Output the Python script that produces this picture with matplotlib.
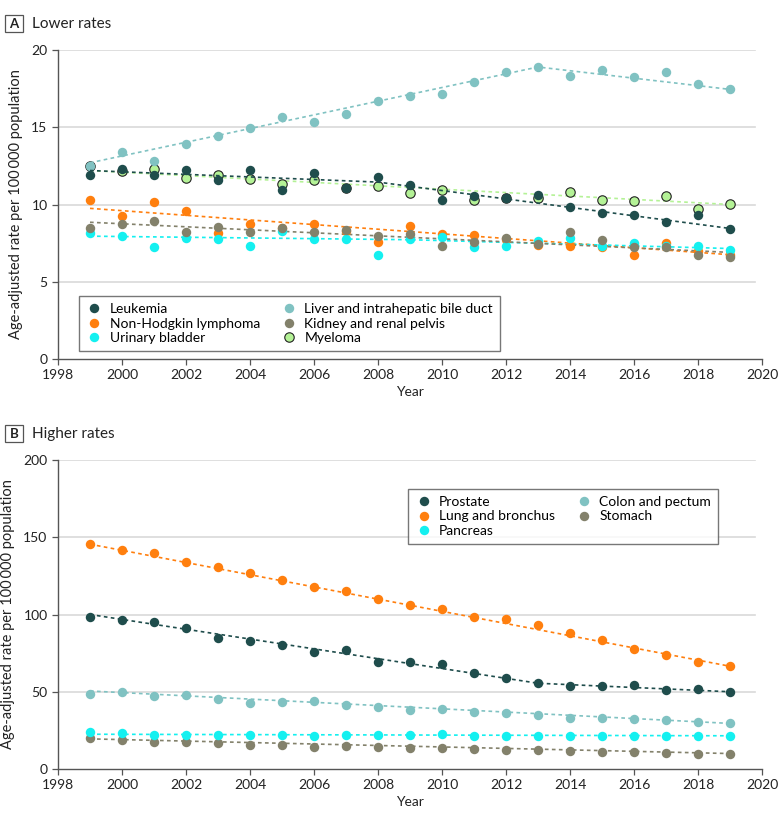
import matplotlib
matplotlib.use("Agg")
import matplotlib.pyplot as plt
from matplotlib.lines import Line2D
from matplotlib.patches import Rectangle

plt.rcParams['font.family'] = ['Lato', 'DejaVu Sans']

years = list(range(1999, 2020))

# Panel A: lower rates
leukemia = [11.92, 12.31, 11.94, 12.23, 11.60, 12.23, 10.97, 12.07, 11.04, 11.81, 11.28,
            10.28, 10.58, 10.39, 10.61, 9.83, 9.44, 9.35, 8.86, 9.29, 8.42]
nhl = [10.30, 9.27, 10.13, 9.55, 8.15, 8.73, 8.50, 8.73, 8.30, 7.60, 8.62,
       8.08, 8.04, 7.75, 7.39, 7.34, 7.24, 6.70, 7.54, 6.96, 6.74]
bladder = [8.15, 7.93, 7.26, 7.86, 7.78, 7.30, 8.30, 7.78, 7.78, 6.76, 7.78,
           7.89, 7.26, 7.32, 7.63, 7.86, 7.32, 7.50, 7.34, 7.32, 7.06]
liver = [12.46, 13.37, 12.79, 13.91, 14.43, 14.95, 15.66, 15.34, 15.86, 16.70, 17.02,
         17.17, 17.93, 18.60, 18.88, 18.32, 18.73, 18.23, 18.56, 17.78, 17.48]
kidney = [8.49, 8.75, 8.96, 8.19, 8.54, 8.23, 8.49, 8.21, 8.36, 7.99, 8.12,
          7.32, 7.56, 7.82, 7.43, 8.23, 7.67, 7.28, 7.28, 6.74, 6.57]
myeloma = [12.49, 12.20, 12.27, 11.69, 11.88, 11.64, 11.34, 11.60, 11.10, 11.17, 10.74,
           10.91, 10.30, 10.40, 10.45, 10.84, 10.30, 10.24, 10.52, 9.72, 10.05]

# Trend (joinpoint) segments: (years, values)
leukemia_trend = ([1999, 2008, 2019], [12.2, 11.45, 8.45])
nhl_trend = ([1999, 2019], [9.75, 6.75])
bladder_trend = ([1999, 2009, 2019], [7.95, 7.72, 7.15])
liver_trend = ([1999, 2013, 2019], [12.7, 18.9, 17.45])
kidney_trend = ([1999, 2019], [8.85, 6.9])
myeloma_trend = ([1999, 2019], [12.2, 10.0])

# Panel B: higher rates
prostate = [98.6, 96.7, 95.1, 91.0, 84.6, 82.6, 80.1, 75.5, 76.8, 69.1, 69.1,
            67.8, 62.4, 58.9, 55.7, 53.7, 53.5, 54.4, 51.1, 51.8, 49.8]
lung = [145.4, 141.7, 140.0, 134.2, 130.5, 127.1, 122.3, 117.8, 115.4, 110.2, 105.9,
        103.6, 98.6, 96.9, 93.2, 87.8, 83.5, 77.9, 73.8, 69.3, 66.9]
pancreas = [23.7, 23.0, 21.8, 22.0, 22.2, 22.2, 22.2, 21.4, 22.0, 21.8, 21.8,
            22.7, 21.4, 21.4, 21.4, 21.4, 21.3, 21.4, 21.4, 21.4, 21.4]
colon = [48.8, 49.6, 47.5, 47.7, 45.5, 42.9, 43.6, 43.8, 41.2, 40.3, 38.2,
         38.8, 37.1, 36.0, 35.1, 32.8, 32.8, 32.4, 31.5, 30.6, 29.6]
stomach = [19.9, 18.6, 17.3, 17.3, 16.6, 15.7, 15.7, 14.4, 14.9, 14.0, 13.6,
           13.6, 12.7, 12.5, 12.1, 11.7, 11.0, 11.0, 10.6, 9.9, 9.9]

prostate_trend = ([1999, 2013, 2019], [100.0, 55.5, 50.0])
lung_trend = ([1999, 2019], [145.5, 66.5])
pancreas_trend = ([1999, 2019], [22.5, 21.5])
colon_trend = ([1999, 2019], [50.5, 29.5])
stomach_trend = ([1999, 2019], [19.5, 10.0])

C_DARK = "#1f4d4c"
C_ORANGE = "#ff7f0e"
C_CYAN = "#14f0f0"
C_TEAL = "#80c2c2"
C_OLIVE = "#83816b"
C_GREEN = "#b4f296"

fig = plt.figure(figsize=(7.8, 8.23), dpi=100)
W, H = 780, 823

def ax_at(x0, y0, x1, y1):
    return fig.add_axes([x0 / W, 1 - y1 / H, (x1 - x0) / W, (y1 - y0) / H])

axA = ax_at(58, 50, 762, 359)
axB = ax_at(58, 460, 762, 769)

def style(ax, ymax, yticks):
    ax.set_xlim(1998, 2020)
    ax.set_ylim(0, ymax)
    ax.set_xticks(range(1998, 2021, 2))
    ax.set_yticks(yticks)
    for s in ['top', 'right']:
        ax.spines[s].set_visible(False)
    for s in ['left', 'bottom']:
        ax.spines[s].set_color('#555555')
        ax.spines[s].set_linewidth(1.0)
    ax.tick_params(axis='both', colors='#555555', labelcolor='#222222', labelsize=10,
                   length=4, width=0.9)
    for yv in yticks[1:]:
        ax.axhline(yv, xmin=0, xmax=0.99, color='#d9d9d9', lw=1.2, zorder=0)
    ax.set_xlabel('Year', fontsize=10, color='#222222', labelpad=3)
    ax.set_ylabel('Age-adjusted rate per 100\u2009000 population', fontsize=10.5,
                  color='#222222', labelpad=6)

style(axA, 20, [0, 5, 10, 15, 20])
style(axB, 200, [0, 50, 100, 150, 200])

MS = 6.8

def series(ax, vals, trend, color, edge=None, z=3):
    ax.plot(trend[0], trend[1], linestyle=(0, (2.2, 2.0)), color=color, lw=1.2, zorder=z - 0.5)
    ax.plot(years, vals, 'o', color=color, markersize=MS,
            markeredgecolor=edge if edge else color,
            markeredgewidth=0.8 if edge else 0, zorder=z)

# Panel A (myeloma drawn first so leukemia covers it)
series(axA, myeloma, myeloma_trend, C_GREEN, edge='#222222', z=2)
series(axA, liver, liver_trend, C_TEAL, z=3)
series(axA, nhl, nhl_trend, C_ORANGE, z=3)
series(axA, bladder, bladder_trend, C_CYAN, z=3.2)
series(axA, kidney, kidney_trend, C_OLIVE, z=3.4)
series(axA, leukemia, leukemia_trend, C_DARK, z=3.6)

# Panel B
series(axB, colon, colon_trend, C_TEAL)
series(axB, stomach, stomach_trend, C_OLIVE)
series(axB, pancreas, pancreas_trend, C_CYAN)
series(axB, lung, lung_trend, C_ORANGE)
series(axB, prostate, prostate_trend, C_DARK)

def handle(color, edge=None):
    return Line2D([], [], linestyle='none', marker='o', markersize=MS, color=color,
                  markeredgecolor=edge if edge else color,
                  markeredgewidth=0.8 if edge else 0)

hA = [handle(C_DARK), handle(C_ORANGE), handle(C_CYAN),
      handle(C_TEAL), handle(C_OLIVE), handle(C_GREEN, '#222222')]
lA = ['Leukemia', 'Non-Hodgkin lymphoma', 'Urinary bladder',
      'Liver and intrahepatic bile duct', 'Kidney and renal pelvis', 'Myeloma']
legA = axA.legend(hA, lA, ncol=2, loc='lower left', bbox_to_anchor=(0.03, 0.026),
                  fontsize=10, frameon=True, fancybox=False, borderpad=0.5,
                  handletextpad=0.5, columnspacing=1.5, labelspacing=0.18,
                  handlelength=1.2, borderaxespad=0)
legA.get_frame().set_edgecolor('#555555')
legA.get_frame().set_linewidth(1.0)

hB = [handle(C_DARK), handle(C_ORANGE), handle(C_CYAN), handle(C_TEAL), handle(C_OLIVE)]
lB = ['Prostate', 'Lung and bronchus', 'Pancreas', 'Colon and pectum', 'Stomach']
legB = axB.legend(hB, lB, ncol=2, loc='upper right', bbox_to_anchor=(0.9375, 0.906),
                  fontsize=10, frameon=True, fancybox=False, borderpad=0.5,
                  handletextpad=0.5, columnspacing=1.5, labelspacing=0.18,
                  handlelength=1.2, borderaxespad=0)
legB.get_frame().set_edgecolor('#555555')
legB.get_frame().set_linewidth(1.0)

def panel_label(letter, title, ytop):
    fig.patches.append(Rectangle((5 / W, 1 - (ytop + 17) / H), 18 / W, 17 / H,
                                 transform=fig.transFigure, fill=False,
                                 edgecolor='#555555', lw=0.9))
    fig.text(14 / W, 1 - (ytop + 8.5) / H, letter, ha='center', va='center',
             fontsize=9.5, fontweight='bold', color='#222222')
    fig.text(32 / W, 1 - (ytop + 8.5) / H, title, ha='left', va='center',
             fontsize=11, color='#222222')

panel_label('A', 'Lower rates', 15)
panel_label('B', 'Higher rates', 425)

fig.savefig('out.png', dpi=100)
